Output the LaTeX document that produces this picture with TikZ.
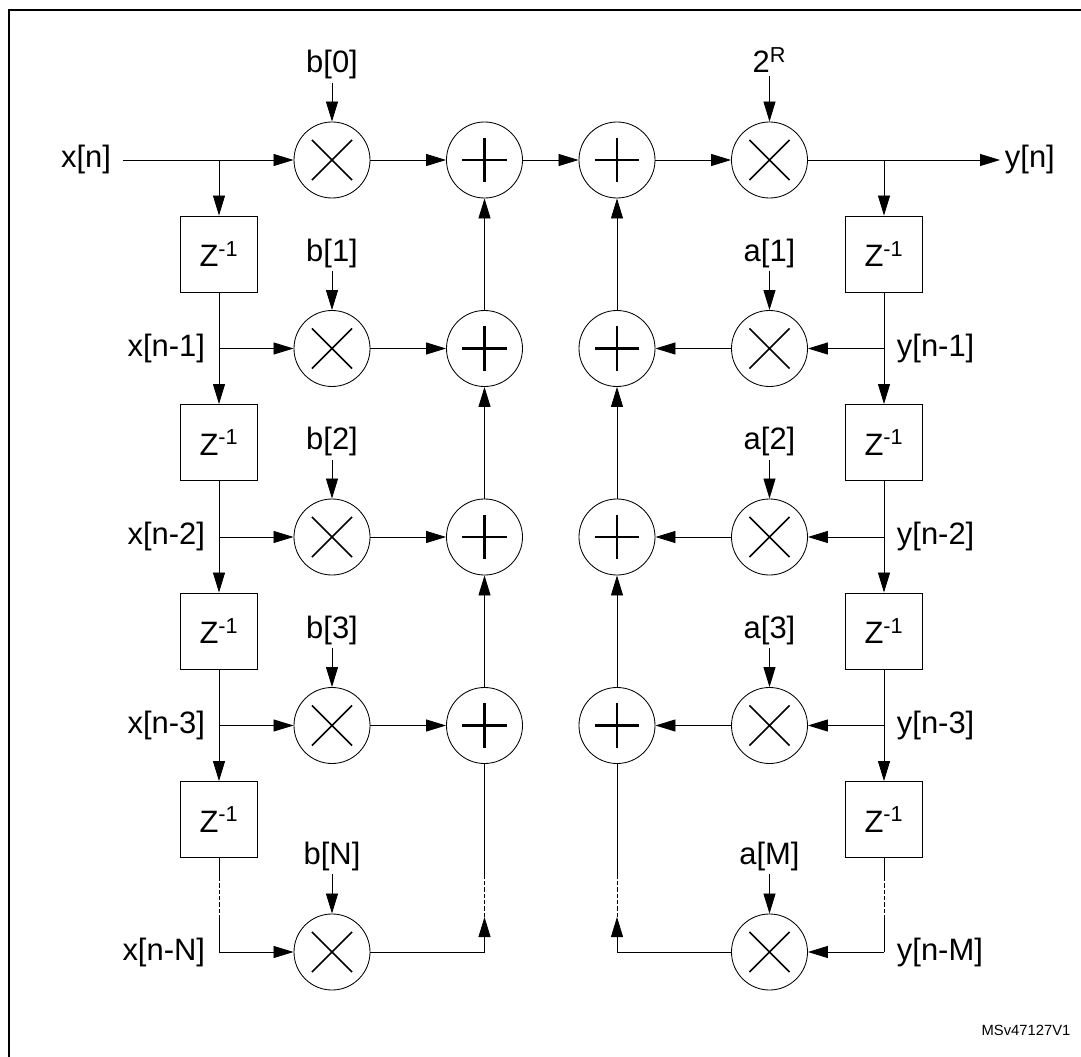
\documentclass[tikz,border=0pt]{standalone}
\usepackage{fontspec}
\setmainfont{Liberation Sans}
\usetikzlibrary{arrows.meta,positioning,calc}

\tikzset{
    x=0.025cm, y=-0.025cm,
    every node/.style={font=\fontsize{22}{26}\selectfont},
    wire/.style={line width=0.6pt},
    arrow/.style={wire, -{Triangle[length=0.5cm,width=0.3cm]}},
    dots/.style={wire, dash pattern=on 3pt off 1.5pt},
    mult/.style={circle, draw, line width=0.6pt, minimum size=1.9cm, inner sep=0pt,
        path picture={\draw[line width=1.2pt] ($(path picture bounding box.center)+(-0.5cm,-0.5cm)$) -- ($(path picture bounding box.center)+(0.5cm,0.5cm)$)
            ($(path picture bounding box.center)+(-0.5cm,0.5cm)$) -- ($(path picture bounding box.center)+(0.5cm,-0.5cm)$);}},
    adder/.style={circle, draw, line width=0.6pt, minimum size=1.9cm, inner sep=0pt,
        path picture={\draw[line width=1.6pt] ($(path picture bounding box.center)+(-0.55cm,0)$) -- ($(path picture bounding box.center)+(0.55cm,0)$)
            ($(path picture bounding box.center)+(0,-0.55cm)$) -- ($(path picture bounding box.center)+(0,0.55cm)$);}},
    delay/.style={rectangle, draw, line width=0.6pt, minimum width=1.925cm, minimum height=1.9cm, inner sep=0pt},
    coef/.style={inner sep=2pt}
}

\begin{document}
\begin{tikzpicture}
    \useasboundingbox (0,0) rectangle (1081,1057);
    % frame
    \draw[line width=1.2pt] (9,1057) -- (9,10) -- (1081,10);

    % top row
    \node (xin) at (86,160) {x[n]};
    \node[mult] (mL0) at (332,160) {};
    \node[adder] (aL0) at (484.5,160) {};
    \node[adder] (aR0) at (617,160) {};
    \node[mult] (mR0) at (769.5,160) {};
    \node[anchor=west] (yout) at (1000,160) {y[n]};
    \node[coef] (b0) at (332,65) {b[0]};
    \node[coef] (two) at (769.5,60) {2\textsuperscript{R}};
    \coordinate (jL0) at (219,160);
    \coordinate (jR0) at (884,160);

    % tap rows
    \foreach \i in {1,2,3} {
        \pgfmathsetmacro{\ry}{160+188.5*\i}
        \pgfmathsetmacro{\zy}{254+188.5*(\i-1)}
        \node[delay] (zL\i) at (219,\zy) {Z\textsuperscript{-1}};
        \node[delay] (zR\i) at (884,\zy) {Z\textsuperscript{-1}};
        \node[mult] (mL\i) at (332,\ry) {};
        \node[adder] (aL\i) at (484.5,\ry) {};
        \node[adder] (aR\i) at (617,\ry) {};
        \node[mult] (mR\i) at (769.5,\ry) {};
        \node[coef] (b\i) at (332,65+188.5*\i) {b[\i]};
        \node[coef] (a\i) at (769.5,65+188.5*\i) {a[\i]};
        \node[anchor=east] (xd\i) at (210,\ry) {x[n-\i]};
        \node[anchor=west] (yd\i) at (892,\ry) {y[n-\i]};
        \coordinate (jL\i) at (219,\ry);
        \coordinate (jR\i) at (884,\ry);
    }
    \node[delay] (zL4) at (219,819.5) {Z\textsuperscript{-1}};
    \node[delay] (zR4) at (884,819.5) {Z\textsuperscript{-1}};

    % last row
    \node[mult] (mLN) at (332,952) {};
    \node[mult] (mRM) at (769.5,952) {};
    \node[coef] (bN) at (332,856) {b[N]};
    \node[coef] (aM) at (769.5,856) {a[M]};
    \node[anchor=east] (xdN) at (210,952) {x[n-N]};
    \node[anchor=west] (ydM) at (892,952) {y[n-M]};
    \coordinate (jLN) at (219,952);
    \coordinate (jRM) at (884,952);
    \coordinate (cL) at (484.5,952);
    \coordinate (cR) at (617,952);
    \coordinate (dL1) at (484.5,917);
    \coordinate (dL2) at (484.5,877);
    \coordinate (dR1) at (617,917);
    \coordinate (dR2) at (617,877);
    \coordinate (eL1) at (219,877);
    \coordinate (eL2) at (219,917);
    \coordinate (eR1) at (884,877);
    \coordinate (eR2) at (884,917);

    \node[font=\fontsize{10.5}{12}\selectfont] (tag) at (1026,1030) {MSv47127V1};

    % forward path
    \draw[wire] (123,160) -- (jL0);
    \draw[arrow] (jL0) -- (mL0);
    \draw[arrow] (jL0) -- (zL1);
    \draw[arrow] (b0) -- (mL0);
    \draw[arrow] (two) -- (mR0);
    \draw[arrow] (aL0) -- (aR0);
    \draw[arrow] (aR0) -- (mR0);
    \draw[arrow] (mR0) -- (yout);
    \draw[arrow] (jR0) -- (zR1);
    \foreach \i [evaluate=\i as \n using int(\i+1)] in {1,2,3} {
        \draw[arrow] (zL\i) -- (zL\n);
        \draw[arrow] (zR\i) -- (zR\n);
        \draw[arrow] (jL\i) -- (mL\i);
        \draw[arrow] (jR\i) -- (mR\i);
        \draw[arrow] (mR\i) -- (aR\i);
        \draw[arrow] (b\i) -- (mL\i);
        \draw[arrow] (a\i) -- (mR\i);
    }
    \foreach \i [evaluate=\i as \p using int(\i-1)] in {1,2,3} {
        \draw[arrow] (aL\i) -- (aL\p);
        \draw[arrow] (aR\i) -- (aR\p);
    }
    \foreach \i in {0,1,2,3}
        \draw[arrow] (mL\i) -- (aL\i);

    % truncated taps
    \draw[wire] (zL4) -- (eL1);
    \draw[dots] (eL1) -- (eL2);
    \draw[wire] (eL2) -- (jLN);
    \draw[arrow] (jLN) -- (mLN);
    \draw[arrow] (bN) -- (mLN);
    \draw[arrow] (mLN) -- (cL) -- (dL1);
    \draw[dots] (dL1) -- (dL2);
    \draw[wire] (dL2) -- (aL3);
    \draw[wire] (zR4) -- (eR1);
    \draw[dots] (eR1) -- (eR2);
    \draw[wire] (eR2) -- (jRM);
    \draw[arrow] (jRM) -- (mRM);
    \draw[arrow] (aM) -- (mRM);
    \draw[arrow] (mRM) -- (cR) -- (dR1);
    \draw[dots] (dR1) -- (dR2);
    \draw[wire] (dR2) -- (aR3);
\end{tikzpicture}
\end{document}
